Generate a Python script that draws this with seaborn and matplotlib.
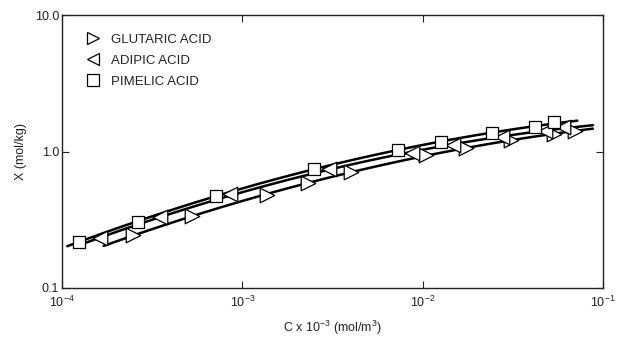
import numpy as np
import pandas as pd
import matplotlib
matplotlib.use("Agg")
import matplotlib.pyplot as plt
import seaborn as sns
from matplotlib.lines import Line2D

sns.set_theme(style="ticks")
plt.rcParams['font.family'] = ['Liberation Sans', 'DejaVu Sans']
plt.rcParams['mathtext.fontset'] = 'custom'
plt.rcParams['mathtext.rm'] = 'Liberation Sans'

# ---- data ----
series_names = ["GLUTARIC ACID", "ADIPIC ACID", "PIMELIC ACID"]

glutaric_c = [2.48e-4, 5.24e-4, 1.37e-3, 2.31e-3, 4.01e-3, 1.04e-2, 1.74e-2, 3.09e-2, 5.36e-2, 7.00e-2]
glutaric_x = [0.243, 0.337, 0.480, 0.585, 0.708, 0.942, 1.06, 1.22, 1.34, 1.41]

adipic_c = [1.63e-4, 3.50e-4, 8.55e-4, 3.01e-3, 8.71e-3, 1.48e-2, 2.75e-2, 4.78e-2, 6.01e-2]
adipic_x = [0.231, 0.330, 0.489, 0.741, 0.975, 1.12, 1.27, 1.41, 1.52]

pimelic_c = [1.24e-4, 2.64e-4, 7.14e-4, 2.50e-3, 7.26e-3, 1.26e-2, 2.43e-2, 4.20e-2, 5.36e-2]
pimelic_x = [0.218, 0.307, 0.472, 0.750, 1.026, 1.18, 1.36, 1.51, 1.64]

# extent of the fitted curves (C range)
curve_ranges = {"GLUTARIC ACID": (1.7e-4, 8.8e-2),
                "ADIPIC ACID": (1.3e-4, 8.8e-2),
                "PIMELIC ACID": (1.07e-4, 7.2e-2)}

markers = {"GLUTARIC ACID": ">", "ADIPIC ACID": "<", "PIMELIC ACID": "s"}
data = {"GLUTARIC ACID": (glutaric_c, glutaric_x),
        "ADIPIC ACID": (adipic_c, adipic_x),
        "PIMELIC ACID": (pimelic_c, pimelic_x)}

fig = plt.figure(figsize=(6.17, 3.37), dpi=100)
ax = fig.add_axes([62/617, 1-288/337, (603-62)/617, (288-15)/337])

for name in series_names:
    c, x = data[name]
    lc, lx = np.log10(c), np.log10(x)
    p = np.polyfit(lc, lx, 2)
    lo, hi = curve_ranges[name]
    cc = np.logspace(np.log10(lo), np.log10(hi), 100)
    fit = pd.DataFrame({"C": cc, "X": 10 ** np.polyval(p, np.log10(cc))})
    sns.lineplot(data=fit, x="C", y="X", ax=ax, color="black", lw=1.8, zorder=2)

for name in series_names:
    c, x = data[name]
    df = pd.DataFrame({"C": c, "X": x})
    ms = 110 if markers[name] != "s" else 75
    sns.scatterplot(data=df, x="C", y="X", ax=ax, marker=markers[name], s=ms,
                    facecolor="white", edgecolor="black", linewidth=0.9, zorder=3)

ax.set_xscale("log")
ax.set_yscale("log")
ax.set_xlim(1e-4, 1e-1)
ax.set_ylim(0.1, 10.0)
ax.set_xticks([1e-4, 1e-3, 1e-2, 1e-1])
ax.set_xticklabels([r"$10^{-4}$", r"$10^{-3}$", r"$10^{-2}$", r"$10^{-1}$"])
ax.set_yticks([0.1, 1.0, 10.0])
ax.set_yticklabels(["0.1", "1.0", "10.0"])
ax.minorticks_off()
ax.tick_params(which="both", direction="in", top=True, right=True, length=5,
               width=0.8, labelsize=9, colors="#222222", pad=2)
ax.tick_params(axis="x", pad=5)
for s in ax.spines.values():
    s.set_linewidth(1.0)
    s.set_color("#222222")

ax.set_xlabel(r"C x 10$^{-3}$ (mol/m$^{3}$)", fontsize=9, color="#222222", labelpad=6)
ax.set_ylabel("X (mol/kg)", fontsize=9, color="#222222", labelpad=6)

handles = [Line2D([], [], ls="none", marker=markers[n], markersize=9,
                  markerfacecolor="white", markeredgecolor="black", markeredgewidth=0.9)
           for n in series_names]
leg = ax.legend(handles, series_names, loc="upper left", frameon=False, fontsize=9.5,
                handletextpad=0.4, labelspacing=0.65, borderaxespad=0.3,
                bbox_to_anchor=(0.015, 0.965))
for t in leg.get_texts():
    t.set_color("#222222")

fig.savefig("out.png", dpi=100)
